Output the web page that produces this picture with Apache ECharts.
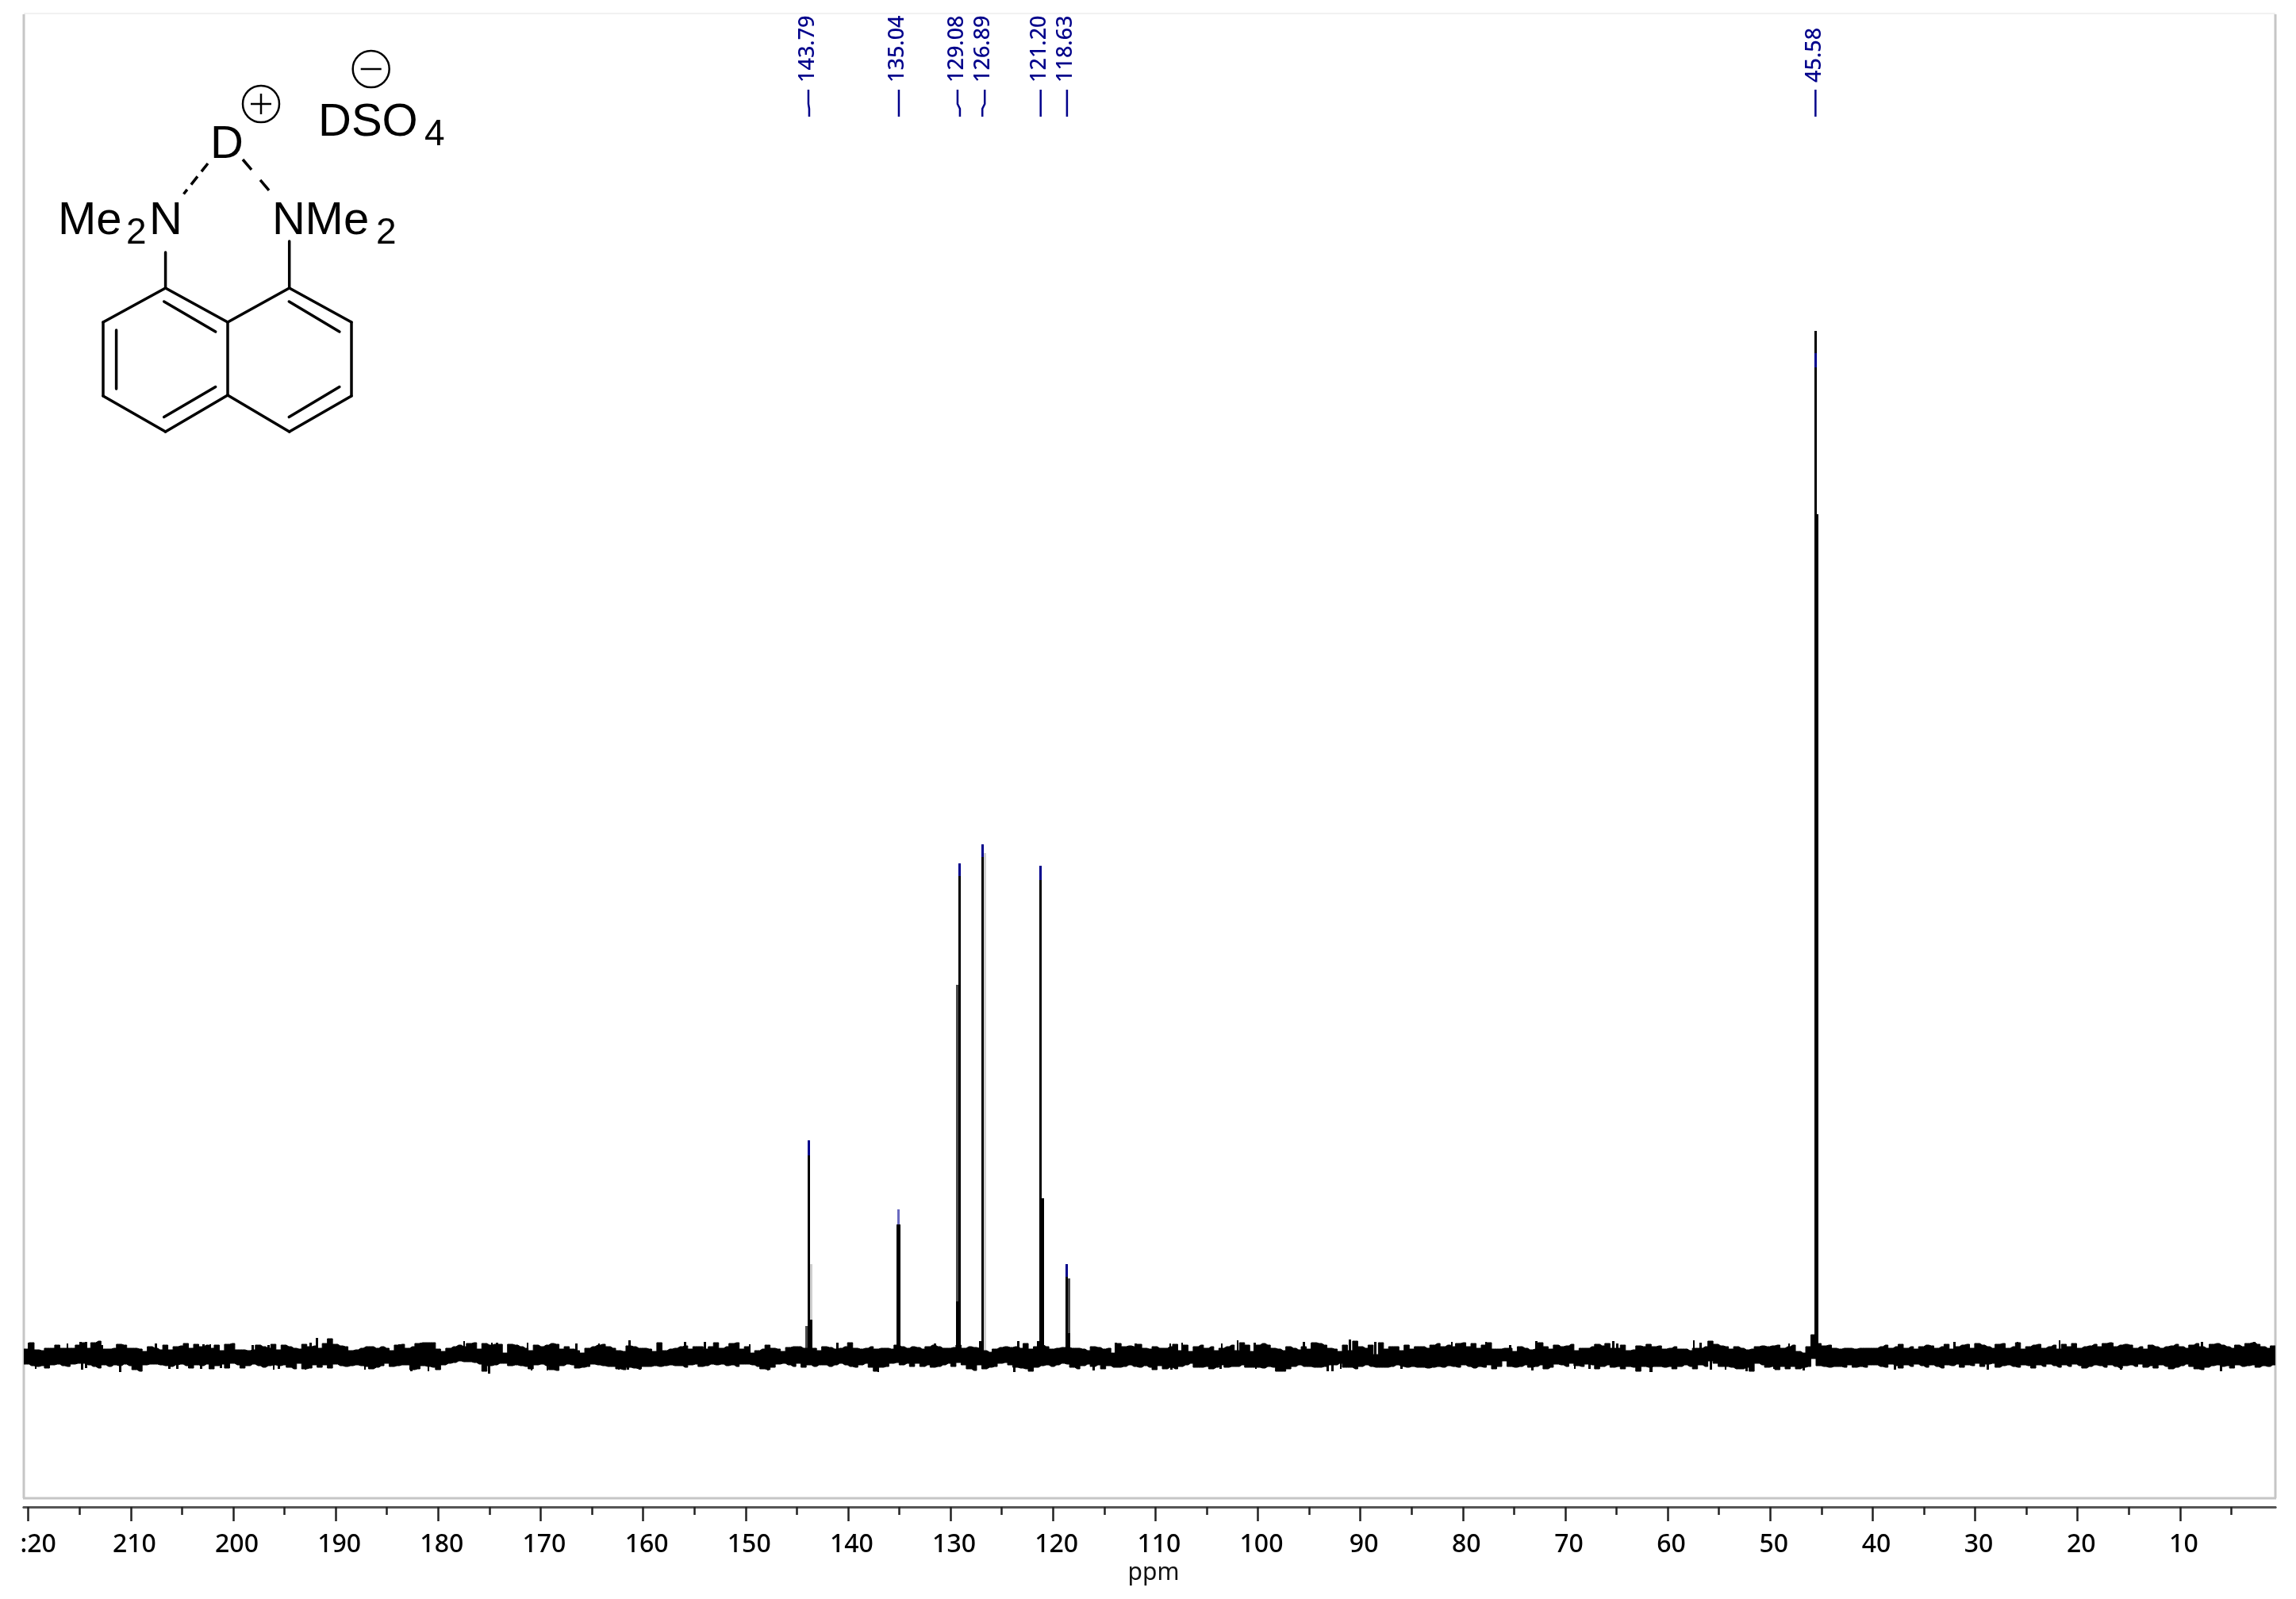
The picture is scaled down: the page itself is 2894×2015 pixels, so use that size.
<!DOCTYPE html>
<html>
<head>
<meta charset="utf-8">
<style>html,body{margin:0;padding:0;background:#fff}#c{width:2894px;height:2015px}</style>
<script src="https://cdn.jsdelivr.net/npm/echarts@6/dist/echarts.min.js"></script>
</head>
<body>
<div id="c"></div>
<script>
// ---------- axis values ----------
const majorTicks = [220,210,200,190,180,170,160,150,140,130,120,110,100,90,80,70,60,50,40,30,20,10];
const tickLabels = [':20','210','200','190','180','170','160','150','140','130','120','110','100','90','80','70','60','50','40','30','20','10'];
const minorTicks = [215,205,195,185,175,165,155,145,135,125,115,105,95,85,75,65,55,45,35,25,15,5];

// ---------- peaks (ppm, intensity) ----------
const peakPpm      = [143.79,135.04,129.08,126.89,121.20,118.63,45.58];
const peakLabels   = ['143.79','135.04','129.08','126.89','121.20','118.63','45.58'];
const peakHeight   = [272,185,621,645,618,116,1292];
const peakBlueHigh = [272,185,621,645,618,116,1264];
const peakBlueLow  = [253,166,605,629,600,100,1246];
const faintPeaks   = [135.04];

// shoulders of the peaks: [ppm from, ppm to, intensity]
const lightShoulders = [[143.675,143.445,116],[126.775,126.545,634]];
const midShoulders   = [[144.135,143.905,38],[129.425,129.195,468],[118.515,118.30,98]];
const blackShoulders = [[143.675,143.445,46],[135.30,134.85,166],[129.425,129.195,69],[127.235,127.005,19],[121.085,120.90,199],[121.545,121.315,19],[118.515,118.30,29],[45.70,45.30,1061]];

// ---------- baseline noise, left to right ----------
const noiseBreaks = [220.44,183.28,146.1,114.35,77.2,40.0,0.7];
const noiseHighA = [9,17,8,7,10,10,14,10,10,10,14,17,10,17,19,9,9,10,15,14,10,10,9,6,12,10,8,14,8,12,13,16,10,15,12,14,10,14,7,15,16,8,8,7,8,14,12,10,15,8,14,12,10,9,15,12,13,10,16,22,15,13,12,7,8,10,12,12,10,12,10,7,14,15];
const noiseLowA  = [-10,-12,-13,-12,-15,-11,-10,-12,-13,-10,-9,-9,-11,-13,-15,-11,-13,-11,-12,-10,-12,-17,-19,-11,-10,-10,-11,-12,-13,-11,-10,-12,-15,-11,-12,-10,-16,-12,-10,-15,-9,-11,-15,-12,-10,-12,-14,-12,-11,-12,-11,-14,-16,-9,-16,-15,-11,-14,-11,-15,-10,-12,-13,-12,-11,-12,-13,-16,-14,-12,-9,-13,-12,-11];
const noiseHighB = [10,12,16,17,17,17,9,6,10,12,14,12,16,17,9,16,14,15,15,4,15,14,12,10,7,14,12,14,16,15,9,12,9,7,4,10,12,14,15,12,10,7,6,13,12,10,10,9,6,17,7,9,10,12,13,9,12,12,9,12,17,10,12,16,17,9,12,4,7,9,14,10,9,6];
const noiseLowB  = [-11,-17,-16,-12,-13,-14,-17,-11,-9,-8,-6,-7,-7,-8,-10,-19,-12,-11,-9,-9,-12,-11,-12,-13,-16,-11,-10,-12,-17,-18,-12,-10,-11,-15,-14,-13,-10,-11,-12,-13,-13,-16,-17,-14,-15,-16,-13,-13,-12,-13,-12,-11,-12,-12,-14,-11,-10,-13,-12,-10,-11,-10,-12,-11,-13,-10,-10,-11,-13,-16,-17,-14,-10,-9];
const noiseHighC = [11,12,12,10,10,10,7,12,11,9,10,12,17,10,9,10,12,9,10,10,9,14,12,10,12,11,9,12,14,12,10,10,11,14,10,12,11,10,7,5,9,11,12,11,12,10,16,9,12,14,12,9,10,11,11,10,10,9,7,12,11,9,10];
const noiseLowC  = [-11,-13,-9,-14,-11,-13,-11,-11,-13,-11,-9,-11,-13,-14,-11,-9,-14,-19,-14,-13,-9,-8,-11,-9,-13,-9,-13,-11,-14,-13,-11,-9,-13,-8,-11,-16,-18,-11,-16,-14,-13,-9,-8,-11,-14,-15,-16,-19,-14,-12,-11,-13,-11,-9,-10,-14,-16,-12,-10,-13,-11,-16,-12];
const noiseHighD = [4,16,12,13,12,15,10,9,12,10,10,12,15,7,14,6,12,14,10,12,7,10,12,14,7,17,14,6,14,16,14,10,9,7,12,10,8,12,9,17,16,14,10,9,6,14,7,19,12,10,14,2,17,9,12,12,7,14,9,12,12,10,14,16,12,14,12,16,17,12,16,10,14,17];
const noiseLowD  = [-14,-14,-13,-11,-13,-14,-12,-14,-17,-12,-16,-14,-16,-13,-11,-9,-14,-14,-13,-16,-14,-11,-14,-13,-13,-11,-14,-14,-14,-15,-13,-14,-19,-19,-16,-13,-11,-13,-13,-14,-14,-13,-11,-11,-9,-14,-14,-16,-13,-11,-13,-14,-14,-14,-13,-11,-13,-14,-13,-14,-14,-15,-14,-13,-14,-12,-13,-14,-11,-13,-15,-13,-14,-11];
const noiseHighE = [9,9,10,10,6,12,10,8,9,17,12,9,14,12,13,15,7,10,10,12,15,13,16,10,10,14,7,8,13,12,15,12,13,9,10,12,9,9,7,10,10,12,19,15,13,12,9,12,10,8,9,12,13,12,13,14,10,12,14,6,4,12,27,16,13,14,10,9,10,10,9,10,10,10];
const noiseLowE  = [-16,-13,-6,-13,-14,-13,-11,-14,-13,-11,-16,-14,-10,-11,-13,-9,-12,-13,-10,-11,-16,-13,-11,-14,-13,-16,-13,-14,-19,-13,-14,-13,-13,-14,-13,-16,-13,-11,-13,-16,-11,-13,-6,-9,-13,-13,-14,-16,-16,-14,-19,-9,-11,-14,-13,-17,-13,-16,-13,-16,-14,-13,-3,-12,-13,-14,-13,-13,-14,-11,-14,-13,-14,-11];
const noiseHighF = [10,12,14,10,12,15,10,12,9,12,14,13,10,12,15,9,12,14,15,10,16,14,12,10,15,16,10,12,17,9,12,14,15,10,12,14,9,15,12,16,10,12,13,15,12,16,17,12,14,15,14,10,12,9,14,12,10,12,13,15,12,10,14,16,12,10,15,16,14,12,10,14,12,16,17,15,12,10,13];
const noiseLowF  = [-11,-13,-14,-10,-12,-15,-11,-13,-10,-12,-14,-11,-13,-15,-11,-12,-10,-14,-11,-12,-9,-13,-10,-9,-14,-12,-11,-13,-14,-11,-12,-15,-11,-13,-10,-12,-14,-11,-13,-10,-12,-15,-13,-11,-12,-14,-11,-13,-15,-12,-11,-13,-10,-14,-12,-15,-11,-13,-16,-14,-12,-10,-13,-16,-17,-14,-12,-11,-13,-12,-15,-11,-13,-12,-11,-14,-12,-13,-11];

// isolated narrow noise spikes
const spikeUpPpm = [219.92,216.18,214.89,214.38,212.83,207.54,202.89,202.25,198.12,196.57,192.44,191.85,183.8,181.73,180.96,177.47,174.76,174.25,171.28,166.5,164.31,161.34,155.92,153.99,151.02,149.6,141.06,131.52,123.39,113.85,111.92,108.56,107.4,103.53,101.98,100.31,95.53,94.76,91.02,88.56,81.08,79.79,77.73,75.39,72.81,70.62,69.46,65.33,64.94,61.72,57.46,56.81,48.17,32.02,25.86,21.75,16.61,7.88,2.74];
const spikeUpVal = [17,16,18,18,14,16,15,15,14,14,17,23,15,17,17,19,17,17,17,16,16,20,18,18,16,15,17,16,19,17,16,16,17,16,20,17,18,17,21,18,18,16,18,14,19,14,15,19,16,15,20,17,16,18,18,20,17,18,18];
const spikeDownPpm = [219.28,214.76,214.38,211.02,206.25,205.47,203.15,201.21,196.05,195.54,192.96,187.15,186.12,182.63,180.96,175.02,170.89,169.34,162.38,161.47,160.31,147.8,137.06,127.52,123.77,116.03,110.24,108.43,103.66,100.18,93.2,92.74,91.92,85.98,73.2,69.07,67.65,61.72,61.59,55.78,54.36,52.3,49.59,46.75,37.84,28.77,15.76,6.0];
const spikeDownVal = [-16,-17,-15,-20,-16,-16,-16,-15,-17,-16,-17,-17,-14,-19,-19,-22,-18,-18,-17,-17,-17,-18,-20,-17,-20,-18,-17,-17,-16,-16,-19,-19,-16,-16,-18,-16,-16,-20,-20,-17,-17,-19,-16,-18,-17,-17,-17,-19];

const noiseHighs = [noiseHighA,noiseHighB,noiseHighC,noiseHighD,noiseHighE,noiseHighF];
const noiseLows  = [noiseLowA,noiseLowB,noiseLowC,noiseLowD,noiseLowE,noiseLowF];

// ---------- build point and column lists ----------
const PEAK_HALF = 0.115;
const SPIKE_HALF = 0.10;
function noisePoints(sets){
  const out = [];
  sets.forEach((vals,s)=>{
    const a = noiseBreaks[s], b = noiseBreaks[s+1];
    vals.forEach((v,i)=>out.push([a+(b-a)*(i+0.5)/vals.length, v]));
  });
  // run the trace out to both ends of the plot at the end samples' levels
  out.unshift([noiseBreaks[0], out[0][1]]);
  out.push([noiseBreaks[noiseBreaks.length-1], out[out.length-1][1]]);
  return out;
}
function noiseSeries(sets){
  return {type:'line',step:'middle',xAxisIndex:0,yAxisIndex:0,silent:true,z:7,animation:false,showSymbol:false,symbol:'none',
    data:noisePoints(sets),lineStyle:{color:'#000',width:1},itemStyle:{color:'#000'},
    areaStyle:{color:'#000',opacity:1,origin:0}};
}
const shoulderCols = list => list.map(d=>[d[0],d[1],0,d[2]]);
const mainCols = peakPpm.map((p,i)=>[p+PEAK_HALF,p-PEAK_HALF,0,peakHeight[i]]);
const blueAll = peakPpm.map((p,i)=>[p+PEAK_HALF,p-PEAK_HALF,peakBlueLow[i],peakBlueHigh[i],p]);
const blueCols = blueAll.filter(d=>!faintPeaks.includes(d[4]));
const faintCols = blueAll.filter(d=>faintPeaks.includes(d[4]));
const spikeCols = spikeUpPpm.map((p,i)=>[p+SPIKE_HALF,p-SPIKE_HALF,0,spikeUpVal[i]])
  .concat(spikeDownPpm.map((p,i)=>[p+SPIKE_HALF,p-SPIKE_HALF,spikeDownVal[i],0]));

function columnSeries(data,color,z){
  return {
    type:'custom', coordinateSystem:'cartesian2d', xAxisIndex:0, yAxisIndex:0, silent:true, z,
    animation:false, clip:false, data,
    encode:{x:[0,1],y:[2,3]},
    renderItem:(params,api)=>{
      const p0 = api.coord([api.value(0),api.value(3)]);
      const p1 = api.coord([api.value(1),api.value(2)]);
      const x0 = Math.round(p0[0]), x1 = Math.max(Math.round(p1[0]),x0+1);
      return {type:'rect',shape:{x:x0,y:Math.round(p0[1]),width:x1-x0,height:Math.round(p1[1])-Math.round(p0[1])},style:{fill:color}};
    }
  };
}

// ---------- peak pick labels ----------
const BLUE = '#00008b';
const labelLayout = {
  '143.79':{top:-1,text:-3}, '135.04':{top:0,text:-3}, '129.08':{top:-3,text:-5},
  '126.89':{top:3,text:0},   '121.20':{top:0,text:-2}, '118.63':{top:0,text:-3}, '45.58':{top:0,text:-2}
};
const pickSeries = {
  type:'custom', coordinateSystem:'cartesian2d', xAxisIndex:0, yAxisIndex:0, silent:true, z:10, animation:false, clip:false,
  data: peakPpm.map((p,i)=>[p,peakHeight[i],i]),
  encode:{x:0,y:1},
  renderItem:(params,api)=>{
    const i = api.value(2), x = api.coord([api.value(0),0])[0];
    const name = peakLabels[i], L = labelLayout[name];
    return {type:'group',children:[
      {type:'polyline',shape:{points:[[x+L.top,113],[x+L.top,131],[x,137],[x,147]]},style:{stroke:BLUE,lineWidth:2.5,fill:null}},
      {type:'text',x:x+L.text+1,y:104,rotation:Math.PI/2,style:{text:name,fill:BLUE,font:'500 27px "Noto Sans"',align:'left',verticalAlign:'middle'}}
    ]};
  }
};

// ---------- chemical structure drawn as annotation ----------
const bonds = [
  [[208.6,363],[287,406]],[[287,406],[364.7,363]],[[364.7,363],[443,406]],[[443,406],[443,499]],
  [[443,499],[364.7,544]],[[364.7,544],[287,498]],[[287,498],[208.6,544]],[[208.6,544],[130,499]],
  [[130,499],[130,406]],[[130,406],[208.6,363]],[[287,406],[287,498]],
  [[208.6,318],[208.6,363]],[[364.7,304],[364.7,363]],
  [[206.7,380],[271.7,418]],[[146.6,416],[146.6,490]],[[206.7,525.5],[271.7,487.6]],
  [[364.3,380],[427.9,418]],[[364.3,525.5],[427.9,487.6]]
];
const dashes = [[[262,206],[231.5,244.5],[13,8]],[[306,201],[343,244.5],[17,17]]];
const FF = '"Liberation Sans"';
const g = [];
bonds.forEach(b=>g.push({type:'line',shape:{x1:b[0][0],y1:b[0][1],x2:b[1][0],y2:b[1][1]},style:{stroke:'#000',lineWidth:3.5,lineCap:'round'}}));
dashes.forEach(b=>g.push({type:'line',shape:{x1:b[0][0],y1:b[0][1],x2:b[1][0],y2:b[1][1]},style:{stroke:'#000',lineWidth:3.5,lineDash:b[2]}}));
[['D',265,183,58],['DSO',401,155,58],['4',535,170,46],
 ['Me',73,279,58],['2',159,294,46],['N',188,279,58],
 ['N',343,279,58],['Me',384.6,279,58],['2',474,294,46]
].forEach(t=>g.push({type:'text',x:t[1],y:t[2],style:{text:t[0],fill:'#000',font:t[3]+'px '+FF,align:'left',verticalAlign:'middle'}}));
[[329,131],[467.7,87]].forEach(c=>g.push({type:'circle',shape:{cx:c[0],cy:c[1],r:23},style:{fill:null,stroke:'#000',lineWidth:2.5}}));
g.push({type:'line',shape:{x1:316,y1:131,x2:342,y2:131},style:{stroke:'#000',lineWidth:2.5}});
g.push({type:'line',shape:{x1:329,y1:118,x2:329,y2:144},style:{stroke:'#000',lineWidth:2.5}});
g.push({type:'line',shape:{x1:454.7,y1:87,x2:480.7,y2:87},style:{stroke:'#000',lineWidth:2.5}});
// plot frame
const frame = '#c6c6c6';
[[30,18,30,1888,frame,3],[2868,18,2868,1888,frame,3],[29,1888,2869,1888,frame,3],[30,17,2868,17,'#f1f1f1',2]].forEach(l=>
  g.push({type:'line',z:-1,shape:{x1:l[0],y1:l[1],x2:l[2],y2:l[3]},style:{stroke:l[4],lineWidth:l[5]}}));

// ---------- chart ----------
const xBase = {type:'value',inverse:true,min:0.7,max:220.44,position:'bottom',offset:11,splitLine:{show:false},
  axisLine:{show:true,onZero:false,lineStyle:{color:'#555',width:3}}};
const labelOf = v => { const i = majorTicks.indexOf(v); return i<0?'':tickLabels[i]; };
const option = {
  backgroundColor:'#fff', animation:false,
  grid:{left:30,right:26,top:18,bottom:127,show:false,containLabel:false},
  xAxis:[
    Object.assign({},xBase,{
      name:'ppm',nameLocation:'middle',nameGap:68,
      nameTextStyle:{fontFamily:'Noto Sans',fontSize:30,color:'#111',padding:[0,0,0,10]},
      axisTick:{show:true,customValues:majorTicks,length:18,lineStyle:{color:'#222',width:2.5}},
      axisLabel:{show:true,customValues:majorTicks,margin:32,fontFamily:'Noto Sans',fontWeight:500,fontSize:32,color:'#000',padding:[0,0,0,9],
        formatter:v=>{const s=labelOf(v);return s.startsWith(':')?'{clip|'+s+'}':s;},
        rich:{clip:{fontFamily:'Noto Sans',fontWeight:500,fontSize:32,color:'#000',padding:[0,0,0,16]}}}
    }),
    Object.assign({},xBase,{
      axisTick:{show:true,customValues:minorTicks,length:10,lineStyle:{color:'#222',width:2.5}},
      axisLabel:{show:false}
    })
  ],
  yAxis:{type:'value',min:-179,max:1691,show:false,splitLine:{show:false}},
  graphic:g,
  series:[
    columnSeries(shoulderCols(lightShoulders),'#cfcfcf',2),
    columnSeries(shoulderCols(midShoulders),'#4a4a4a',3),
    columnSeries(shoulderCols(blackShoulders),'#000',4),
    columnSeries(mainCols,'#000',5),
    columnSeries(blueCols,BLUE,6),
    columnSeries(faintCols,'#6a6ac0',6),
    noiseSeries(noiseHighs),
    noiseSeries(noiseLows),
    columnSeries(spikeCols,'#000',8),
    pickSeries
  ]
};
const chart = echarts.init(document.getElementById('c'),null,{renderer:'canvas'});
chart.setOption(option);
</script>
</body>
</html>
